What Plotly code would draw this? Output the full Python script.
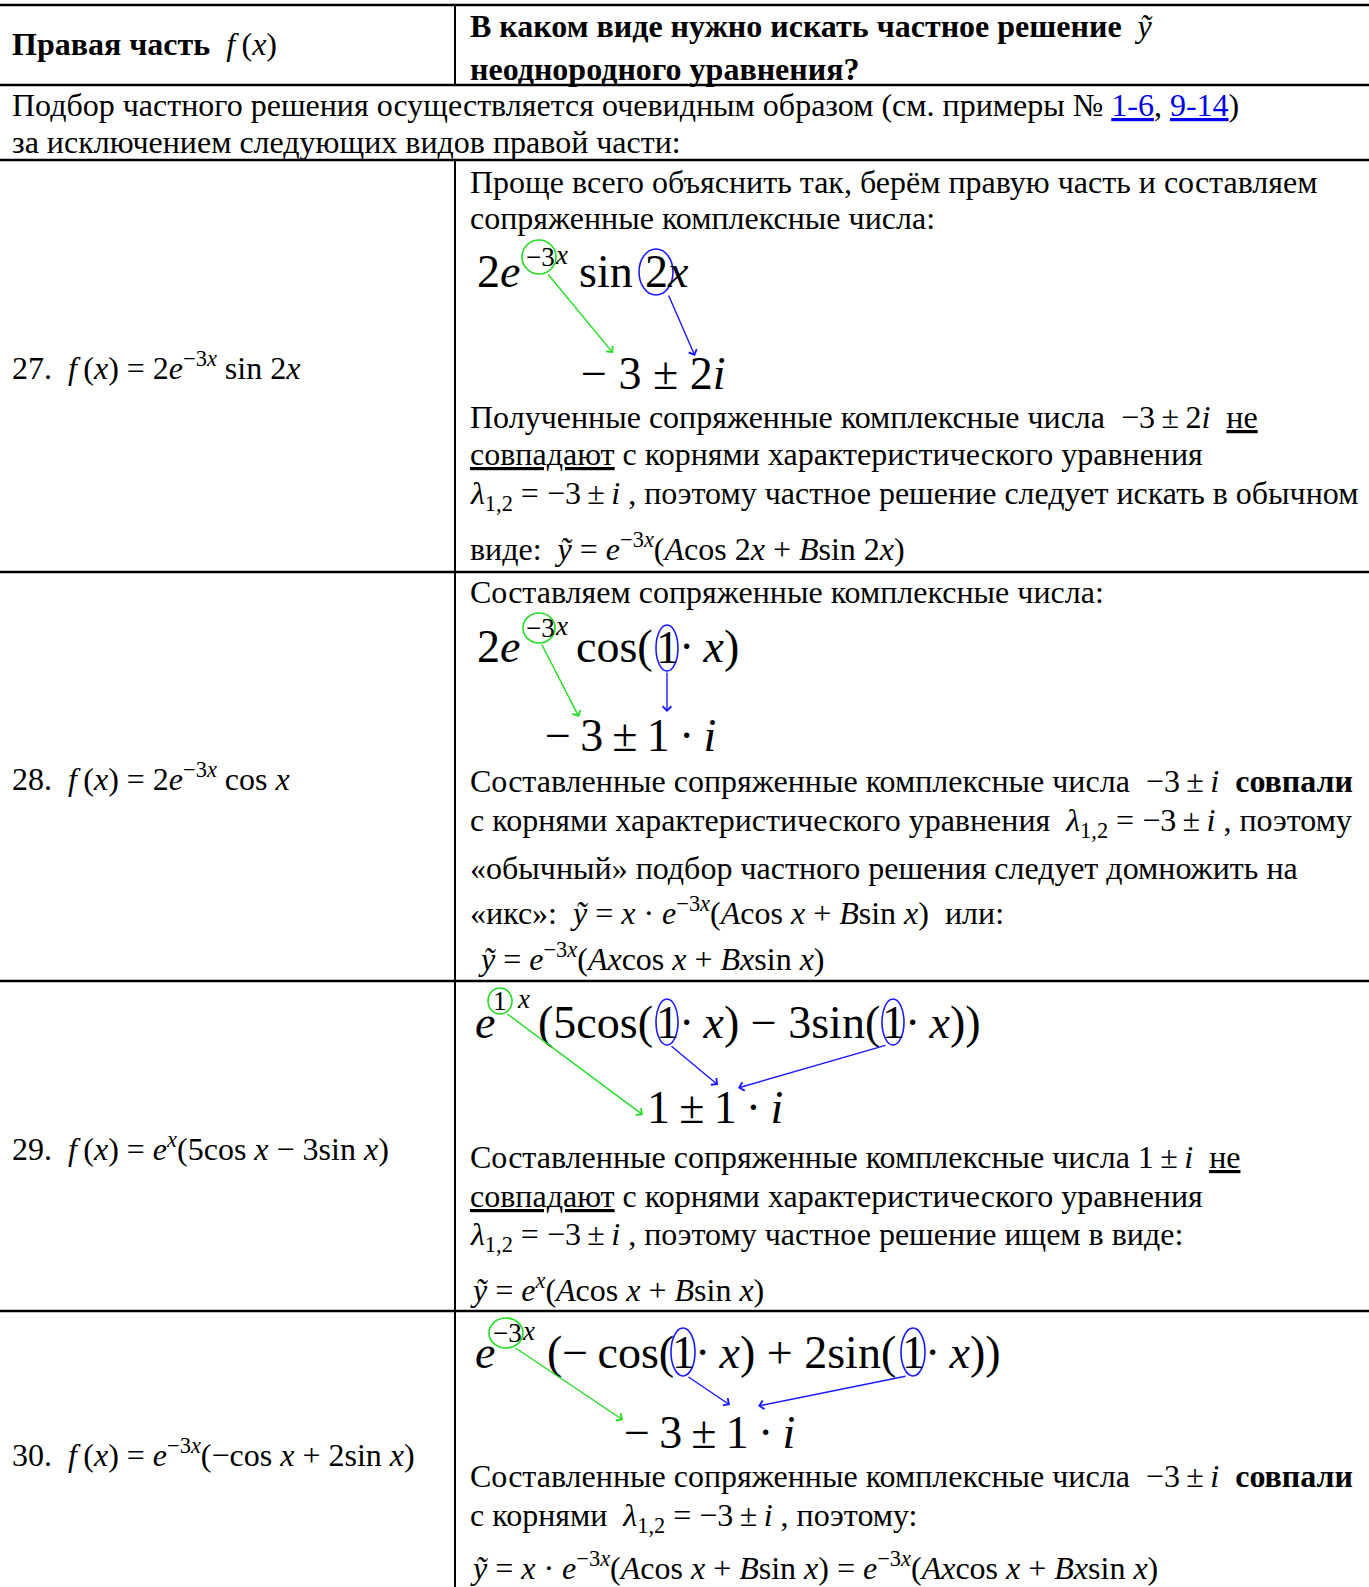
import plotly.graph_objects as go

W, H = 1369, 1587
SERIF = "Liberation Serif"
GREEN = "#22dd22"
BLUE = "#1a1aff"
LINK = "#0000ee"
BODY = 32
BIG = 46
SUP = 27
TS = "\u2009"  # thin space

# --- table text
header_left = "<b>Правая часть</b>\u00a0 <i>f</i>" + TS + "(<i>x</i>)"
header_right = [
    "<b>В каком виде нужно искать частное решение</b>\u00a0 <i>ỹ</i>",
    "<b>неоднородного уравнения?</b>",
]
intro_lines = [
    "Подбор частного решения осуществляется очевидным образом (см. примеры № "
    f"<span style='color:{LINK}'><u>1-6</u></span>, <span style='color:{LINK}'><u>9-14</u></span>)",
    "за исключением следующих видов правой части:",
]
case_labels = [
    "27.\u00a0 <i>f</i>" + TS + "(<i>x</i>) = 2<i>e</i><sup>−3<i>x</i></sup> sin 2<i>x</i>",
    "28.\u00a0 <i>f</i>" + TS + "(<i>x</i>) = 2<i>e</i><sup>−3<i>x</i></sup> cos <i>x</i>",
    "29.\u00a0 <i>f</i>" + TS + "(<i>x</i>) = <i>e</i><sup><i>x</i></sup>(5cos <i>x</i> − 3sin <i>x</i>)",
    "30.\u00a0 <i>f</i>" + TS + "(<i>x</i>) = <i>e</i><sup>−3<i>x</i></sup>(−cos <i>x</i> + 2sin <i>x</i>)",
]
case_lines = [
    ["Проще всего объяснить так, берём правую часть и составляем",
     "сопряженные комплексные числа:",
     "Полученные сопряженные комплексные числа\u00a0 −3" + TS + "±" + TS + "2<i>i</i>\u00a0 <u>не</u>",
     "<u>совпадают</u> с корнями характеристического уравнения",
     "<i>λ</i><sub>1,2</sub> = −3" + TS + "±" + TS + "<i>i</i> , поэтому частное решение следует искать в обычном",
     "виде:\u00a0 <i>ỹ</i> = <i>e</i><sup>−3<i>x</i></sup>(<i>A</i>cos 2<i>x</i> + <i>B</i>sin 2<i>x</i>)"],
    ["Составляем сопряженные комплексные числа:",
     "Составленные сопряженные комплексные числа\u00a0 −3" + TS + "±" + TS + "<i>i</i>\u00a0 <b>совпали</b>",
     "с корнями характеристического уравнения\u00a0 <i>λ</i><sub>1,2</sub> = −3" + TS + "±" + TS + "<i>i</i> , поэтому",
     "«обычный» подбор частного решения следует домножить на",
     "«икс»:\u00a0 <i>ỹ</i> = <i>x</i> · <i>e</i><sup>−3<i>x</i></sup>(<i>A</i>cos <i>x</i> + <i>B</i>sin <i>x</i>)\u00a0 или:",
     "<i>ỹ</i> = <i>e</i><sup>−3<i>x</i></sup>(<i>Ax</i>cos <i>x</i> + <i>Bx</i>sin <i>x</i>)"],
    ["Составленные сопряженные комплексные числа 1" + TS + "±" + TS + "<i>i</i>\u00a0 <u>не</u>",
     "<u>совпадают</u> с корнями характеристического уравнения",
     "<i>λ</i><sub>1,2</sub> = −3" + TS + "±" + TS + "<i>i</i> , поэтому частное решение ищем в виде:",
     "<i>ỹ</i> = <i>e</i><sup><i>x</i></sup>(<i>A</i>cos <i>x</i> + <i>B</i>sin <i>x</i>)"],
    ["Составленные сопряженные комплексные числа\u00a0 −3" + TS + "±" + TS + "<i>i</i>\u00a0 <b>совпали</b>",
     "с корнями\u00a0 <i>λ</i><sub>1,2</sub> = −3" + TS + "±" + TS + "<i>i</i> , поэтому:",
     "<i>ỹ</i> = <i>x</i> · <i>e</i><sup>−3<i>x</i></sup>(<i>A</i>cos <i>x</i> + <i>B</i>sin <i>x</i>) = "
     "<i>e</i><sup>−3<i>x</i></sup>(<i>Ax</i>cos <i>x</i> + <i>Bx</i>sin <i>x</i>)"],
]
# big worked formulas, split where the circles sit
formula_tokens = [
    ["2<i>e</i>", "−3", "<i>x</i>", "sin", "2", "<i>x</i>"],
    ["2<i>e</i>", "−3", "<i>x</i>", "cos(", "1", "·" + TS + "<i>x</i>)"],
    ["<i>e</i>", "1", "<i>x</i>", "(5cos(", "1", "·" + TS + "<i>x</i>) − 3sin(", "1", "·" + TS + "<i>x</i>))"],
    ["<i>e</i>", "−3", "<i>x</i>", "(−" + TS + "cos(", "1", "·" + TS + "<i>x</i>) + 2sin(", "1", "·" + TS + "<i>x</i>))"],
]
roots = [
    "− 3 ± 2<i>i</i>",
    "−" + TS + "3" + TS + "±" + TS + "1" + TS + "·" + TS + "<i>i</i>",
    "1" + TS + "±" + TS + "1" + TS + "·" + TS + "<i>i</i>",
    "−" + TS + "3" + TS + "±" + TS + "1" + TS + "·" + TS + "<i>i</i>",
]

# --- page layout (pixels, y grows downwards)
row_edges = [5, 85, 160, 572, 981, 1311]
col_x = 455
LX, RX = 11, 469
header_y = [26, 69]
intro_y = [105, 142]
label_y = [366, 777, 1147, 1453]
line_y = [
    [182, 218, 417, 454, 495, 547],
    [592, 781, 822, 868, 911, 957],
    [1157, 1196, 1236, 1288],
    [1476, 1517, 1566],
]
line_x = [[RX] * 6, [RX] * 5 + [RX + 8], [RX] * 4, [RX] * 3]
# (x, y, anchor, size) per token
formula_layout = [
    [(476, 271, "left", BIG), (540, 257, "center", SUP), (554, 255, "left", SUP),
     (578, 271, "left", BIG), (656, 271, "center", BIG), (666, 271, "left", BIG)],
    [(476, 646, "left", BIG), (540, 628, "center", SUP), (554, 626, "left", SUP),
     (575, 646, "left", BIG), (667, 647, "center", BIG), (678, 646, "left", BIG)],
    [(474, 1022, "left", BIG), (500, 1001, "center", SUP), (516, 999, "left", SUP),
     (537, 1022, "left", BIG), (667, 1022, "center", BIG), (678, 1022, "left", BIG),
     (893, 1022, "center", BIG), (904, 1022, "left", BIG)],
    [(474, 1352, "left", BIG), (507, 1333, "center", SUP), (521, 1331, "left", SUP),
     (546, 1352, "left", BIG), (683, 1352, "center", BIG), (694, 1352, "left", BIG),
     (913, 1352, "center", BIG), (924, 1352, "left", BIG)],
]
root_pos = [(580, 373), (544, 735), (646, 1107), (623, 1432)]
circles = [
    [(539, 257, 17, 17, GREEN), (656, 272, 17, 23, BLUE)],
    [(539, 628, 16, 15, GREEN), (667, 648, 11, 23, BLUE)],
    [(500, 1001, 12, 13, GREEN), (667, 1022, 11, 23, BLUE), (893, 1022, 11, 23, BLUE)],
    [(506, 1333, 17, 15, GREEN), (683, 1352, 12, 24, BLUE), (913, 1352, 12, 24, BLUE)],
]
arrows = [
    [(547, 273, 613, 353, GREEN), (668, 294, 695, 356, BLUE)],
    [(541, 643, 579, 717, GREEN), (667, 671, 667, 712, BLUE)],
    [(506, 1013, 643, 1115, GREEN), (670, 1045, 718, 1085, BLUE), (887, 1045, 738, 1088, BLUE)],
    [(514, 1347, 623, 1420, GREEN), (687, 1376, 730, 1405, BLUE), (907, 1376, 758, 1406, BLUE)],
]

fig = go.Figure()
ann = []
shapes = []


def txt(x, y, s, size=BODY, anchor="left"):
    ann.append(dict(x=x, y=y, xref="x", yref="y", text=s, showarrow=False,
                    xanchor=anchor, yanchor="middle", borderpad=0,
                    font=dict(family=SERIF, size=size, color="black")))


# grid lines
for y in row_edges:
    shapes.append(dict(type="line", x0=0, x1=W, y0=y, y1=y, line=dict(color="black", width=2.5)))
shapes.append(dict(type="line", x0=col_x, x1=col_x, y0=row_edges[0], y1=row_edges[1],
                   line=dict(color="black", width=2)))
shapes.append(dict(type="line", x0=col_x, x1=col_x, y0=row_edges[2], y1=H,
                   line=dict(color="black", width=2)))

txt(LX, 44, header_left)
for s, y in zip(header_right, header_y):
    txt(RX, y, s)
for s, y in zip(intro_lines, intro_y):
    txt(LX, y, s)

for i in range(4):
    txt(LX, label_y[i], case_labels[i])
    for s, x, y in zip(case_lines[i], line_x[i], line_y[i]):
        txt(x, y, s)
    for s, (x, y, a, sz) in zip(formula_tokens[i], formula_layout[i]):
        txt(x, y, s, sz, a)
    rx, ry = root_pos[i]
    txt(rx, ry, roots[i], BIG)
    for cx, cy, a, b, c in circles[i]:
        shapes.append(dict(type="circle", x0=cx - a, x1=cx + a, y0=cy - b, y1=cy + b,
                           line=dict(color=c, width=1.6)))
    for x0, y0, x1, y1, c in arrows[i]:
        ann.append(dict(x=x1, y=y1, ax=x0, ay=y0, xref="x", yref="y", axref="x", ayref="y",
                        text="", showarrow=True, arrowhead=4, arrowsize=1.2,
                        arrowwidth=1.4, arrowcolor=c))

fig.update_layout(
    width=W, height=H, margin=dict(l=0, r=0, t=0, b=0),
    paper_bgcolor="white", plot_bgcolor="white", showlegend=False,
    xaxis=dict(range=[0, W], visible=False, fixedrange=True),
    yaxis=dict(range=[H, 0], visible=False, fixedrange=True),
    annotations=ann, shapes=shapes,
)
fig.write_html("out.html", config={"displayModeBar": False},
               post_script="document.body.style.margin='0';document.body.style.overflow='hidden';")
